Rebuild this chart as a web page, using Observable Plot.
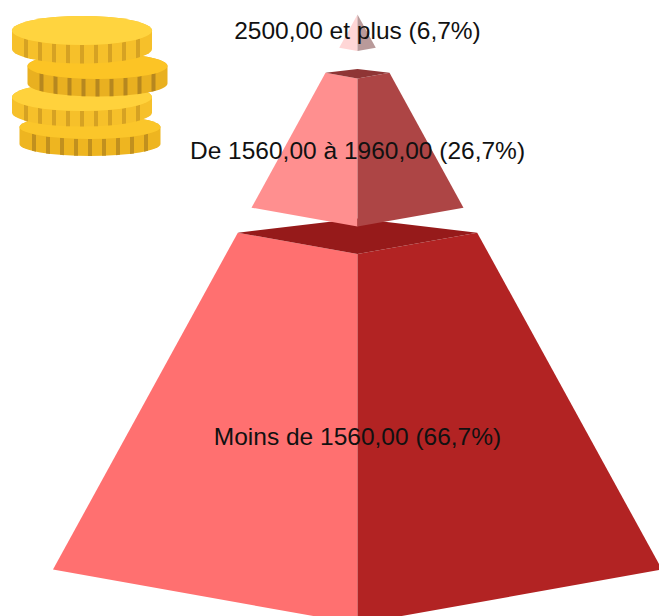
<!DOCTYPE html>
<html><head><meta charset="utf-8">
<script src="https://cdn.jsdelivr.net/npm/d3@7"></script>
<script src="https://cdn.jsdelivr.net/npm/@observablehq/plot@0.6"></script>
<style>html,body{margin:0;padding:0;background:#fff}svg{display:block}</style>
</head><body><div id="chart"></div>
<script>
const categories = ["Moins de 1560,00", "De 1560,00 à 1960,00", "2500,00 et plus"];
const shares = [66.7, 26.7, 6.7];
const shareLabels = ["66,7%", "26,7%", "6,7%"];
const leftColors = ["#ff7070", "#ff8f8f", "#ffd6d6"];
const rightColors = ["#b22323", "#ad4545", "#b99a9a"];
const rimColors = ["#961a1a", "#8f3535", "#c9a8a8"];

const gap = 0.045, unit = 0.91 / 100, frontDepth = 0.098, backDepth = 0.065;
// Cumulate the shares from the base of the pyramid (t = 1) up to the apex (t = 0).
let cursor = 1;
const tiers = categories.map((c, i) => {
  const t1 = cursor, t0 = Math.max(0, t1 - shares[i] * unit);
  cursor = t0 - gap;
  return {c, i, t0, t1};
});
const faces = [];
for (const {i, t0, t1} of tiers) {
  const L = t => [-t, t], R = t => [t, t], F = t => [0, t * (1 + frontDepth)], B = t => [0, t * (1 - backDepth)];
  const add = (fill, pts) => pts.forEach(([x, y]) => faces.push({key: i + fill, fill, x, y}));
  add(leftColors[i], [L(t0), F(t0), F(t1), L(t1)]);
  add(rightColors[i], [F(t0), R(t0), R(t1), F(t1)]);
  if (t0 > 0) add(rimColors[i], [L(t0), B(t0), R(t0), F(t0)]);
}
const labels = tiers.map(({c, i, t0, t1}) => ({
  text: `${c} (${shareLabels[i]})`, x: 0, y: (t0 + t1) / 2 * (1 + frontDepth)
}));

// The stack of coins is a decorative picture in the source, not data.
const coins = [
  {cx: 90, cy: 127, rx: 70.5, ry: 12, h: 17, top: "#fbc62a", rim: "#eeb520", stripe: "#b8891e"},
  {cx: 82, cy: 97, rx: 70, ry: 14, h: 15.5, top: "#ffd23c", rim: "#f6c02a", stripe: "#d09c22"},
  {cx: 97.5, cy: 66, rx: 70, ry: 13, h: 17.5, top: "#fcc425", rim: "#e9b020", stripe: "#ad8020"},
  {cx: 82, cy: 30.5, rx: 70, ry: 14.5, h: 18.5, top: "#ffd43f", rim: "#f6c02a", stripe: "#d09c22"}
];
function coinMark() {
  const g = d3.create("svg:g");
  for (const k of coins) {
    const low = x => k.cy + k.ry * Math.sqrt(Math.max(0, 1 - ((x - k.cx) / k.rx) ** 2));
    g.append("path").attr("fill", k.rim)
      .attr("d", `M${k.cx - k.rx},${k.cy}A${k.rx},${k.ry} 0 0 1 ${k.cx + k.rx},${k.cy}V${k.cy + k.h}A${k.rx},${k.ry} 0 0 1 ${k.cx - k.rx},${k.cy + k.h}Z`);
    for (let s = -56; s <= 56; s += 14) {
      const a = k.cx + s - 2, b = k.cx + s + 2;
      g.append("path").attr("fill", k.stripe).attr("opacity", 0.85)
        .attr("d", `M${a},${low(a)}L${b},${low(b)}V${low(b) + k.h}L${a},${low(a) + k.h}Z`);
    }
    g.append("ellipse").attr("fill", k.top).attr("cx", k.cx).attr("cy", k.cy).attr("rx", k.rx).attr("ry", k.ry);
  }
  return g.node();
}

const chart = Plot.plot({
  width: 659, height: 616,
  margin: 0,
  x: {domain: [-1, 1], range: [52.5, 661.5], axis: null},
  y: {domain: [0, 1], range: [14, 569], axis: null},
  color: {type: "identity"},
  marks: [
    Plot.line(faces, {x: "x", y: "y", z: "key", fill: "fill", stroke: null, curve: "linear-closed"}),
    coinMark,
    Plot.text(labels, {x: "x", y: "y", dy: -1.5, text: "text", fontSize: 24.5, fontFamily: "Liberation Sans, Arial, sans-serif", fill: "#111"})
  ]
});
document.getElementById("chart").append(chart);
</script></body></html>
